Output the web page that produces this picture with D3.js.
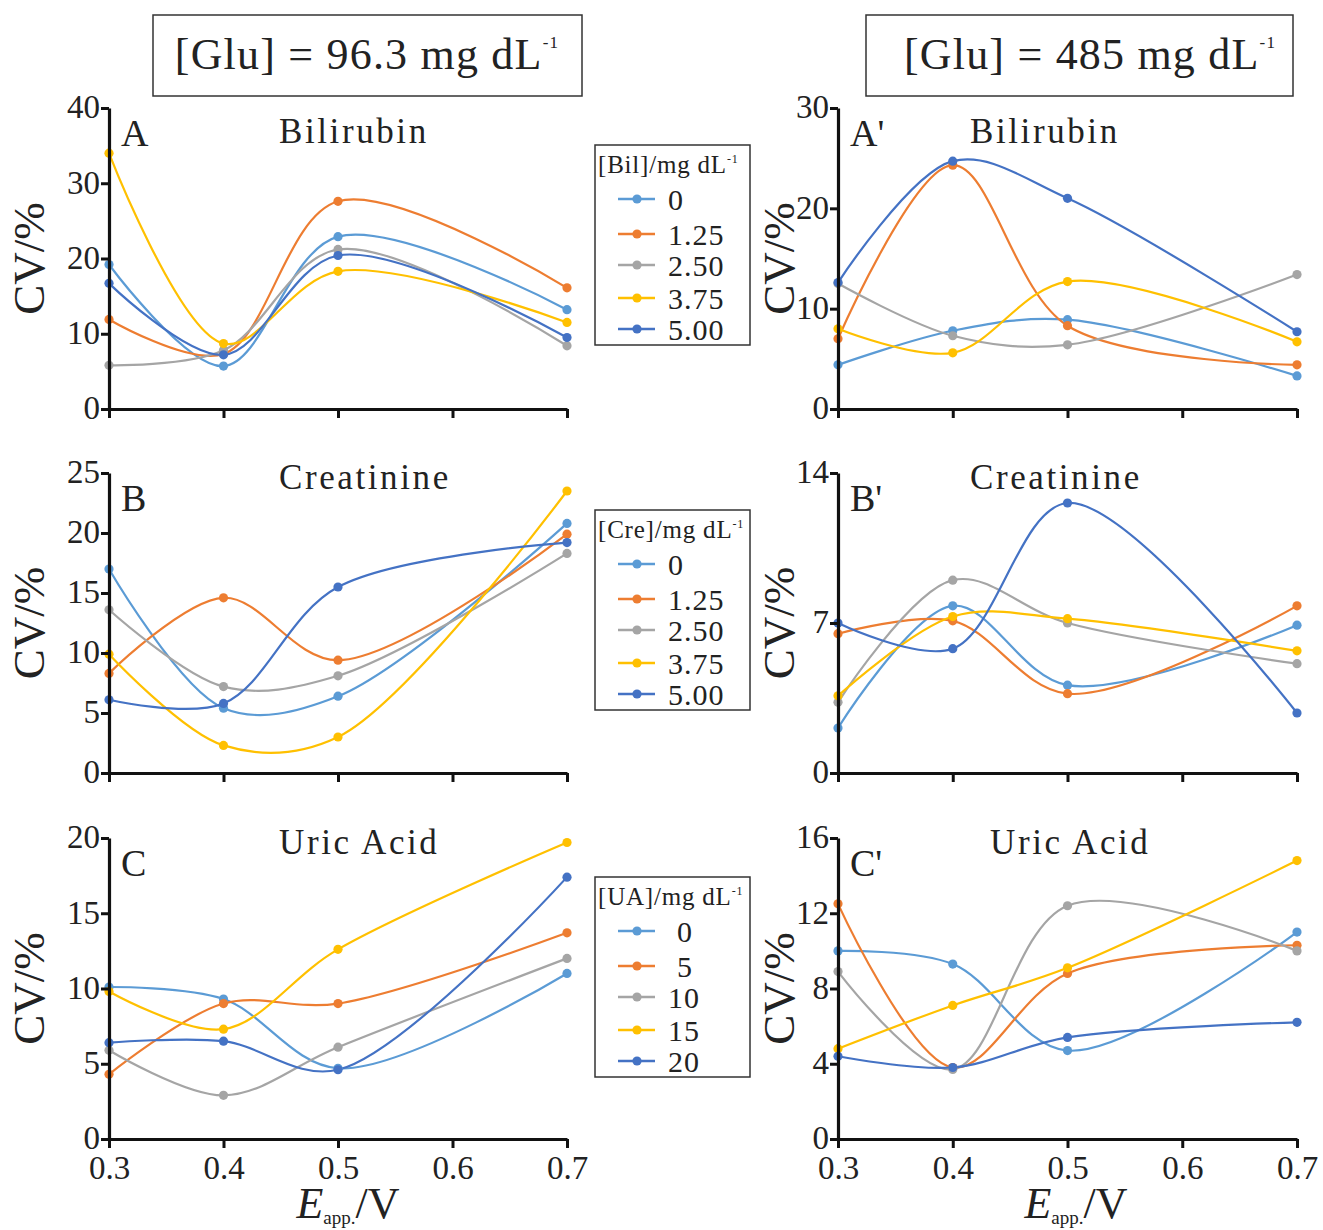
<!DOCTYPE html>
<html><head><meta charset="utf-8">
<script src="https://cdn.jsdelivr.net/npm/d3@7"></script>
<style>
html,body{margin:0;padding:0;background:#fff;}
svg{display:block;}
text{font-family:"Liberation Serif","Times New Roman",serif;fill:#222;}
</style></head>
<body>
<svg id="chart" width="1323" height="1230"></svg>
<script>
// ---------- data ----------
const xValues = [0.3, 0.4, 0.5, 0.7];
const xTicks = [0.3, 0.4, 0.5, 0.6, 0.7];
const seriesColors = ["#5B9BD5", "#ED7D31", "#A5A5A5", "#FFC000", "#4472C4"];

const bilLevels = ["0", "1.25", "2.50", "3.75", "5.00"];
const creLevels = ["0", "1.25", "2.50", "3.75", "5.00"];
const uaLevels = ["0", "5", "10", "15", "20"];

const bilLowCV = [[19.2, 5.7, 22.9, 13.2], [11.9, 7.3, 27.6, 16.1], [5.8, 7.8, 21.2, 8.4], [34.0, 8.7, 18.3, 11.5], [16.7, 7.2, 20.4, 9.5]];
const bilHighCV = [[4.4, 7.8, 8.9, 3.3], [7.0, 24.3, 8.3, 4.4], [12.5, 7.3, 6.4, 13.4], [8.0, 5.6, 12.7, 6.7], [12.6, 24.7, 21.0, 7.7]];
const creLowCV = [[17.0, 5.4, 6.4, 20.8], [8.3, 14.6, 9.4, 19.9], [13.6, 7.2, 8.1, 18.3], [9.9, 2.3, 3.0, 23.5], [6.1, 5.8, 15.5, 19.2]];
const creHighCV = [[2.1, 7.8, 4.1, 6.9], [6.5, 7.1, 3.7, 7.8], [3.3, 9.0, 7.0, 5.1], [3.6, 7.3, 7.2, 5.7], [7.0, 5.8, 12.6, 2.8]];
const uaLowCV = [[10.1, 9.3, 4.7, 11.0], [4.3, 9.0, 9.0, 13.7], [5.9, 2.9, 6.1, 12.0], [9.8, 7.3, 12.6, 19.7], [6.4, 6.5, 4.6, 17.4]];
const uaHighCV = [[10.0, 9.3, 4.7, 11.0], [12.5, 3.8, 8.8, 10.3], [8.9, 3.7, 12.4, 10.0], [4.8, 7.1, 9.1, 14.8], [4.4, 3.8, 5.4, 6.2]];

const yTicksA = [0, 10, 20, 30, 40];
const yTicksA2 = [0, 10, 20, 30];
const yTicksB = [0, 5, 10, 15, 20, 25];
const yTicksB2 = [0, 7, 14];
const yTicksC = [0, 5, 10, 15, 20];
const yTicksC2 = [0, 4, 8, 12, 16];

const panelLetters = ["A", "A'", "B", "B'", "C", "C'"];
const analyteNames = ["Bilirubin", "Creatinine", "Uric Acid"];
const legendTitles = ["[Bil]/mg dL", "[Cre]/mg dL", "[UA]/mg dL"];
const glucoseLabels = ["[Glu] = 96.3 mg dL", "[Glu] = 485 mg dL"];

// ---------- layout ----------
const svg = d3.select("#chart");
const colX = [[109, 567], [838, 1297]];
const rowY = [[409, 108], [773, 473], [1139, 838]];
const titleOffset = [35, 16, 16];
const titleX = [[279, 279, 279], [970, 970, 990]];

const panels = [
  {row: 0, col: 0, data: bilLowCV, ticks: yTicksA},
  {row: 0, col: 1, data: bilHighCV, ticks: yTicksA2},
  {row: 1, col: 0, data: creLowCV, ticks: yTicksB},
  {row: 1, col: 1, data: creHighCV, ticks: yTicksB2},
  {row: 2, col: 0, data: uaLowCV, ticks: yTicksC},
  {row: 2, col: 1, data: uaHighCV, ticks: yTicksC2}
];

// title boxes
const boxes = [[153, 15, 429, 81, 367], [866, 15, 427, 81, 1090]];
boxes.forEach((b, i) => {
  svg.append("rect").attr("x", b[0]).attr("y", b[1]).attr("width", b[2]).attr("height", b[3])
    .attr("fill", "none").attr("stroke", "#333").attr("stroke-width", 1.5);
  const t = svg.append("text").attr("x", b[4]).attr("y", 69).attr("text-anchor", "middle")
    .style("font-size", "44px").style("letter-spacing", "1.2px");
  t.append("tspan").text(glucoseLabels[i]);
  t.append("tspan").attr("dy", -21).style("font-size", "17px").text("-1");
});

panels.forEach((p, pi) => {
  const x = d3.scaleLinear().domain([0.3, 0.7]).range(colX[p.col]);
  const y = d3.scaleLinear().domain([0, d3.max(p.ticks)]).range(rowY[p.row]);
  const g = svg.append("g");

  // lines
  const line = d3.line().x((d, i) => x(xValues[i])).y(d => y(d)).curve(d3.curveCatmullRom.alpha(0.5));
  p.data.forEach((s, si) => {
    g.append("path").attr("d", line(s)).attr("fill", "none")
      .attr("stroke", seriesColors[si]).attr("stroke-width", 2.2);
  });
  p.data.forEach((s, si) => {
    g.selectAll(null).data(s).enter().append("circle")
      .attr("cx", (d, i) => x(xValues[i])).attr("cy", d => y(d)).attr("r", 4.6)
      .attr("fill", seriesColors[si]);
  });

  // axes
  const yAxis = d3.axisLeft(y).tickValues(p.ticks).tickSize(8).tickSizeOuter(0).tickPadding(1);
  const ya = g.append("g").attr("transform", `translate(${colX[p.col][0]},0)`).call(yAxis);
  const xAxis = d3.axisBottom(x).tickValues(xTicks).tickSize(9).tickSizeOuter(0).tickPadding(5)
    .tickFormat(p.row === 2 ? d3.format(".1f") : () => "");
  const xa = g.append("g").attr("transform", `translate(0,${rowY[p.row][0]})`).call(xAxis);
  [ya, xa].forEach(a => {
    a.attr("font-family", null);
    a.select(".domain").attr("stroke", "#111").attr("stroke-width", 3.2);
    a.selectAll(".tick line").attr("stroke", "#111").attr("stroke-width", 3);
    a.selectAll(".tick text").style("font-size", "33px").attr("fill", "#222")
      .style("font-family", '"Liberation Serif","Times New Roman",serif');
  });
  xa.selectAll(".tick text").attr("dy", "0.78em");
  ya.selectAll(".tick text").attr("dy", "0.3em");

  // y label
  const cy = (rowY[p.row][0] + rowY[p.row][1]) / 2;
  const lx = p.col === 0 ? 30 : 780;
  svg.append("text").attr("transform", `translate(${lx + 14},${cy}) rotate(-90)`)
    .attr("text-anchor", "middle").style("font-size", "45px").text("CV/%");

  // panel letter and title
  svg.append("text").attr("x", colX[p.col][0] + 12).attr("y", rowY[p.row][1] + 38)
    .style("font-size", "38px").text(panelLetters[pi]);
  svg.append("text").attr("x", titleX[p.col][p.row]).attr("y", rowY[p.row][1] + titleOffset[p.row])
    .style("font-size", "35px").style("letter-spacing", "2.6px")
    .text(analyteNames[p.row]);

  // x label
  if (p.row === 2) {
    const cx = p.col === 0 ? 348 : 1076;
    const t = svg.append("text").attr("x", cx).attr("y", 1218).attr("text-anchor", "middle").style("font-size", "44px");
    t.append("tspan").style("font-style", "italic").text("E");
    t.append("tspan").attr("dy", 6).style("font-size", "19px").text("app.");
    t.append("tspan").attr("dy", -6).text("/V");
  }
});

// legends
const legendLevels = [bilLevels, creLevels, uaLevels];
const legendTops = [145, 510, 877];
legendTops.forEach((top, li) => {
  const lg = svg.append("g").attr("transform", `translate(595,${top})`);
  lg.append("rect").attr("width", 155).attr("height", 200).attr("fill", "#fff")
    .attr("stroke", "#333").attr("stroke-width", 1.5);
  const tt = lg.append("text").attr("x", 3).attr("y", 28).style("font-size", "25px").style("letter-spacing", "0.8px");
  tt.append("tspan").text(legendTitles[li]);
  tt.append("tspan").attr("dy", -10).style("font-size", "12px").text("-1");
  const rowsY = [54, 89, 120, 153, 184];
  legendLevels[li].forEach((lab, k) => {
    lg.append("line").attr("x1", 23).attr("x2", 60).attr("y1", rowsY[k]).attr("y2", rowsY[k])
      .attr("stroke", seriesColors[k]).attr("stroke-width", 2.4);
    lg.append("circle").attr("cx", 42).attr("cy", rowsY[k]).attr("r", 4.6).attr("fill", seriesColors[k]);
    lg.append("text").attr("x", li === 2 && lab.length === 1 ? 82 : 73)
      .attr("y", rowsY[k] + 11).style("font-size", "30px").style("letter-spacing", "1px").text(lab);
  });
});
</script>
</body></html>
